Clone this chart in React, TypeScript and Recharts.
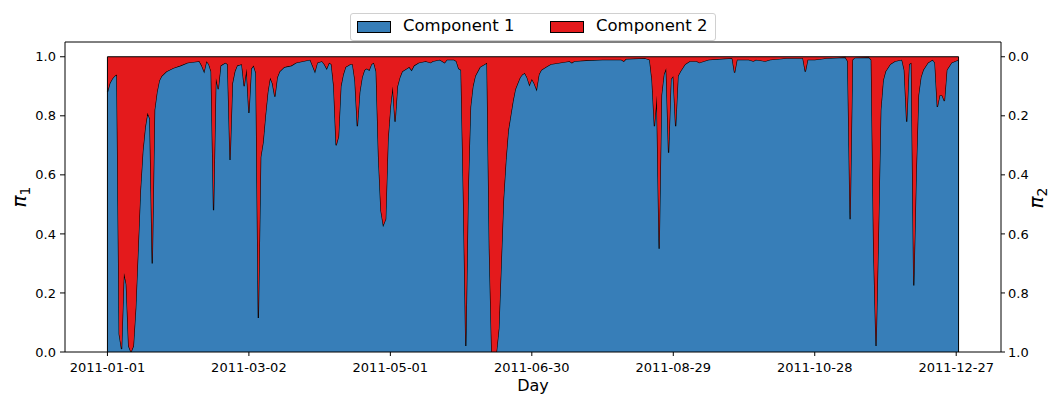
import React from "react";
import { AreaChart, Area, XAxis, YAxis, ReferenceLine } from "recharts";

// day index from 2011-01-01 and the mixing weight of component 1 on that day
const days = [
  0, 1, 2, 3, 4, 5, 6, 7, 8, 9, 10, 11, 12, 13, 14, 15, 16, 17, 18, 19, 20, 21, 22, 23, 25, 28,
  31, 34, 39, 40, 41, 42, 43, 44, 45, 46, 47, 48, 50, 51, 52, 53, 54, 55, 57, 58, 59, 60, 61,
  62, 63, 64, 65, 66, 67, 68, 69, 70, 71, 72, 73, 75, 78, 80, 83, 86, 87, 88, 89, 91, 92, 93,
  94, 95, 96, 97, 98, 99, 100, 101, 103, 104, 105, 106, 107, 108, 109, 110, 111, 112, 113,
  114, 115, 116, 117, 118, 119, 120, 121, 122, 123, 124, 125, 127, 128, 129, 130, 132, 135,
  137, 138, 141, 143, 144, 147, 148, 149, 150, 151, 152, 153, 154, 155, 156, 158, 160, 161,
  162, 163, 164, 165, 166, 167, 168, 169, 170, 171, 172, 173, 174, 175, 176, 177, 178, 179,
  180, 181, 182, 183, 184, 186, 188, 192, 196, 197, 198, 203, 210, 218, 219, 220, 228, 230,
  231, 232, 233, 234, 235, 236, 237, 238, 239, 240, 241, 242, 243, 245, 247, 250, 251, 255,
  260, 265, 266, 267, 272, 274, 275, 279, 281, 288, 295, 296, 297, 300, 305, 313, 314, 315,
  316, 317, 323, 324, 325, 326, 327, 328, 329, 330, 332, 334, 337, 338, 339, 340, 341, 342,
  343, 344, 345, 346, 348, 350, 351, 352, 353, 354, 355, 356, 358, 361,
];

const pi1 = [
  0.88, 0.91, 0.925, 0.935, 0.94, 0.06, 0.01, 0.27, 0.23, 0.02, 0.0, 0.02, 0.15, 0.35, 0.55,
  0.68, 0.76, 0.81, 0.79, 0.3, 0.82, 0.88, 0.92, 0.935, 0.95, 0.962,
  0.97, 0.98, 0.985, 0.97, 0.95, 0.985, 0.975, 0.95, 0.48, 0.93, 0.89, 0.97, 0.98, 0.975,
  0.65, 0.91, 0.95, 0.97, 0.975, 0.9, 0.96, 0.81, 0.96,
  0.97, 0.945, 0.115, 0.66, 0.71, 0.8, 0.88, 0.93, 0.91, 0.865, 0.93, 0.95, 0.965, 0.97,
  0.98, 0.985, 0.99, 0.97, 0.95, 0.98, 0.985, 0.975, 0.96,
  0.98, 0.975, 0.9, 0.7, 0.73, 0.9, 0.94, 0.965, 0.975, 0.975, 0.92, 0.765, 0.88, 0.93,
  0.955, 0.96, 0.955, 0.975, 0.98,
  0.95, 0.66, 0.48, 0.43, 0.45, 0.72, 0.83, 0.9, 0.78, 0.9, 0.93, 0.95, 0.96, 0.965, 0.955,
  0.97, 0.98, 0.985,
  0.98, 0.985, 0.99, 0.98, 0.99, 0.99, 0.985, 0.96, 0.955, 0.53, 0.02, 0.55, 0.83, 0.9,
  0.935, 0.965, 0.975, 0.98,
  0.35, 0.0, 0.0, 0.0, 0.08, 0.3, 0.52, 0.65, 0.75, 0.8, 0.85, 0.89, 0.91, 0.93, 0.94,
  0.945, 0.93, 0.905,
  0.925, 0.91, 0.89, 0.94, 0.955, 0.965, 0.975, 0.98, 0.985, 0.98, 0.985, 0.988, 0.99, 0.99,
  0.985, 0.993, 0.995, 0.99,
  0.92, 0.765, 0.87, 0.35, 0.87, 0.94, 0.962, 0.675, 0.924, 0.935, 0.765, 0.935, 0.95,
  0.975, 0.985, 0.985, 0.98, 0.99,
  0.993, 0.995, 0.946, 0.99, 0.99, 0.985, 0.99, 0.985, 0.99, 0.995, 0.995, 0.95, 0.99, 0.99,
  0.995, 0.998, 0.985, 0.45,
  0.99, 0.997, 0.998, 0.99, 0.35, 0.02, 0.4, 0.82, 0.92, 0.95, 0.975, 0.985, 0.99, 0.955,
  0.78, 0.975, 0.98, 0.225,
  0.6, 0.87, 0.93, 0.955, 0.98, 0.99, 0.98, 0.83, 0.87, 0.87, 0.85, 0.955, 0.98, 0.99,
];

const tickDays = [0, 60, 120, 180, 240, 300, 360];
const tickLabels = ["2011-01-01", "2011-03-02", "2011-05-01", "2011-06-30", "2011-08-29", "2011-10-28", "2011-12-27"];
const probTicks = [0, 0.2, 0.4, 0.6, 0.8, 1.0];

const font = "DejaVu Sans, sans-serif";
const blue = "#377eb8";
const red = "#e41a1c";

const data = days.map((d, i) => ({ day: d, c1: pi1[i], c2: 1 - pi1[i] }));
const firstDay = days[0];
const lastDay = days[days.length - 1];

const PiLabel = ({ x, y, sub }: { x: number; y: number; sub: string }) => (
  <text
    x={x}
    y={y}
    transform={`rotate(-90, ${x}, ${y})`}
    textAnchor="middle"
    fontFamily={font}
    fontSize={20}
    fontStyle="italic"
    fill="#000"
  >
    π
    <tspan fontSize={14} fontStyle="normal" dy={4}>
      {sub}
    </tspan>
  </text>
);

const legendItems = [
  { name: "Component 1", color: blue, patchX: 6, textX: 52 },
  { name: "Component 2", color: red, patchX: 199, textX: 245 },
];

const App = () => {
  const tickStyle = { fontSize: 13, fill: "#000", fontFamily: font };
  return (
    <div style={{ position: "absolute", left: 0, top: 0, width: 1051, height: 394, background: "#fff" }}>
      <AreaChart width={1051} height={394} data={data} margin={{ top: 42, right: 0, bottom: 0, left: 0 }}>
        <XAxis
          type="number"
          dataKey="day"
          domain={[-18, 379]}
          allowDataOverflow
          ticks={tickDays}
          tickFormatter={(d: number) => tickLabels[tickDays.indexOf(d)]}
          height={42}
          tick={tickStyle}
          tickSize={4}
          tickMargin={7}
          axisLine={{ stroke: "#000" }}
          tickLine={{ stroke: "#000" }}
          label={{ value: "Day", position: "insideBottom", offset: 3, style: { fontSize: 16, fill: "#000", fontFamily: font } }}
        />
        <YAxis
          yAxisId="left"
          domain={[0, 1.05]}
          allowDataOverflow
          ticks={probTicks}
          tickFormatter={(v: number) => v.toFixed(1)}
          width={65}
          tick={tickStyle}
          tickSize={5}
          tickMargin={4}
          axisLine={{ stroke: "#000" }}
          tickLine={{ stroke: "#000" }}
          label={{ content: () => <PiLabel x={26} y={197} sub="1" /> }}
        />
        <YAxis
          yAxisId="right"
          orientation="right"
          reversed
          domain={[-0.05, 1]}
          allowDataOverflow
          ticks={probTicks}
          tickFormatter={(v: number) => v.toFixed(1)}
          width={50}
          tick={tickStyle}
          tickSize={4}
          tickMargin={3}
          axisLine={{ stroke: "#000" }}
          tickLine={{ stroke: "#000" }}
          label={{ content: () => <PiLabel x={1043} y={198} sub="2" /> }}
        />
        <Area
          yAxisId="left"
          type="linear"
          dataKey="c1"
          stackId="pi"
          fill={blue}
          fillOpacity={1}
          stroke="#000"
          strokeWidth={1.2}
          isAnimationActive={false}
        />
        <Area
          yAxisId="left"
          type="linear"
          dataKey="c2"
          stackId="pi"
          fill={red}
          fillOpacity={1}
          stroke="#000"
          strokeWidth={1.2}
          isAnimationActive={false}
        />
        <ReferenceLine yAxisId="left" segment={[{ x: firstDay, y: 0 }, { x: firstDay, y: 1 }]} stroke="#000" />
        <ReferenceLine yAxisId="left" segment={[{ x: lastDay, y: 0 }, { x: lastDay, y: 1 }]} stroke="#000" />
        <ReferenceLine yAxisId="left" y={1.05} stroke="#000" />
      </AreaChart>
      <div
        style={{
          position: "absolute",
          left: 350,
          top: 13,
          width: 364,
          height: 26,
          border: "1px solid #d0d0d0",
          borderRadius: 3,
          background: "rgba(255,255,255,0.8)",
          fontFamily: font,
          fontSize: 16.5,
          color: "#000",
        }}
      >
        {legendItems.map((it) => (
          <React.Fragment key={it.name}>
            <div
              style={{
                position: "absolute",
                left: it.patchX,
                top: 7,
                width: 32,
                height: 10,
                background: it.color,
                border: "1px solid #000",
              }}
            />
            <span style={{ position: "absolute", left: it.textX, top: 2, lineHeight: "20px", whiteSpace: "nowrap" }}>
              {it.name}
            </span>
          </React.Fragment>
        ))}
      </div>
    </div>
  );
};

export default App;
